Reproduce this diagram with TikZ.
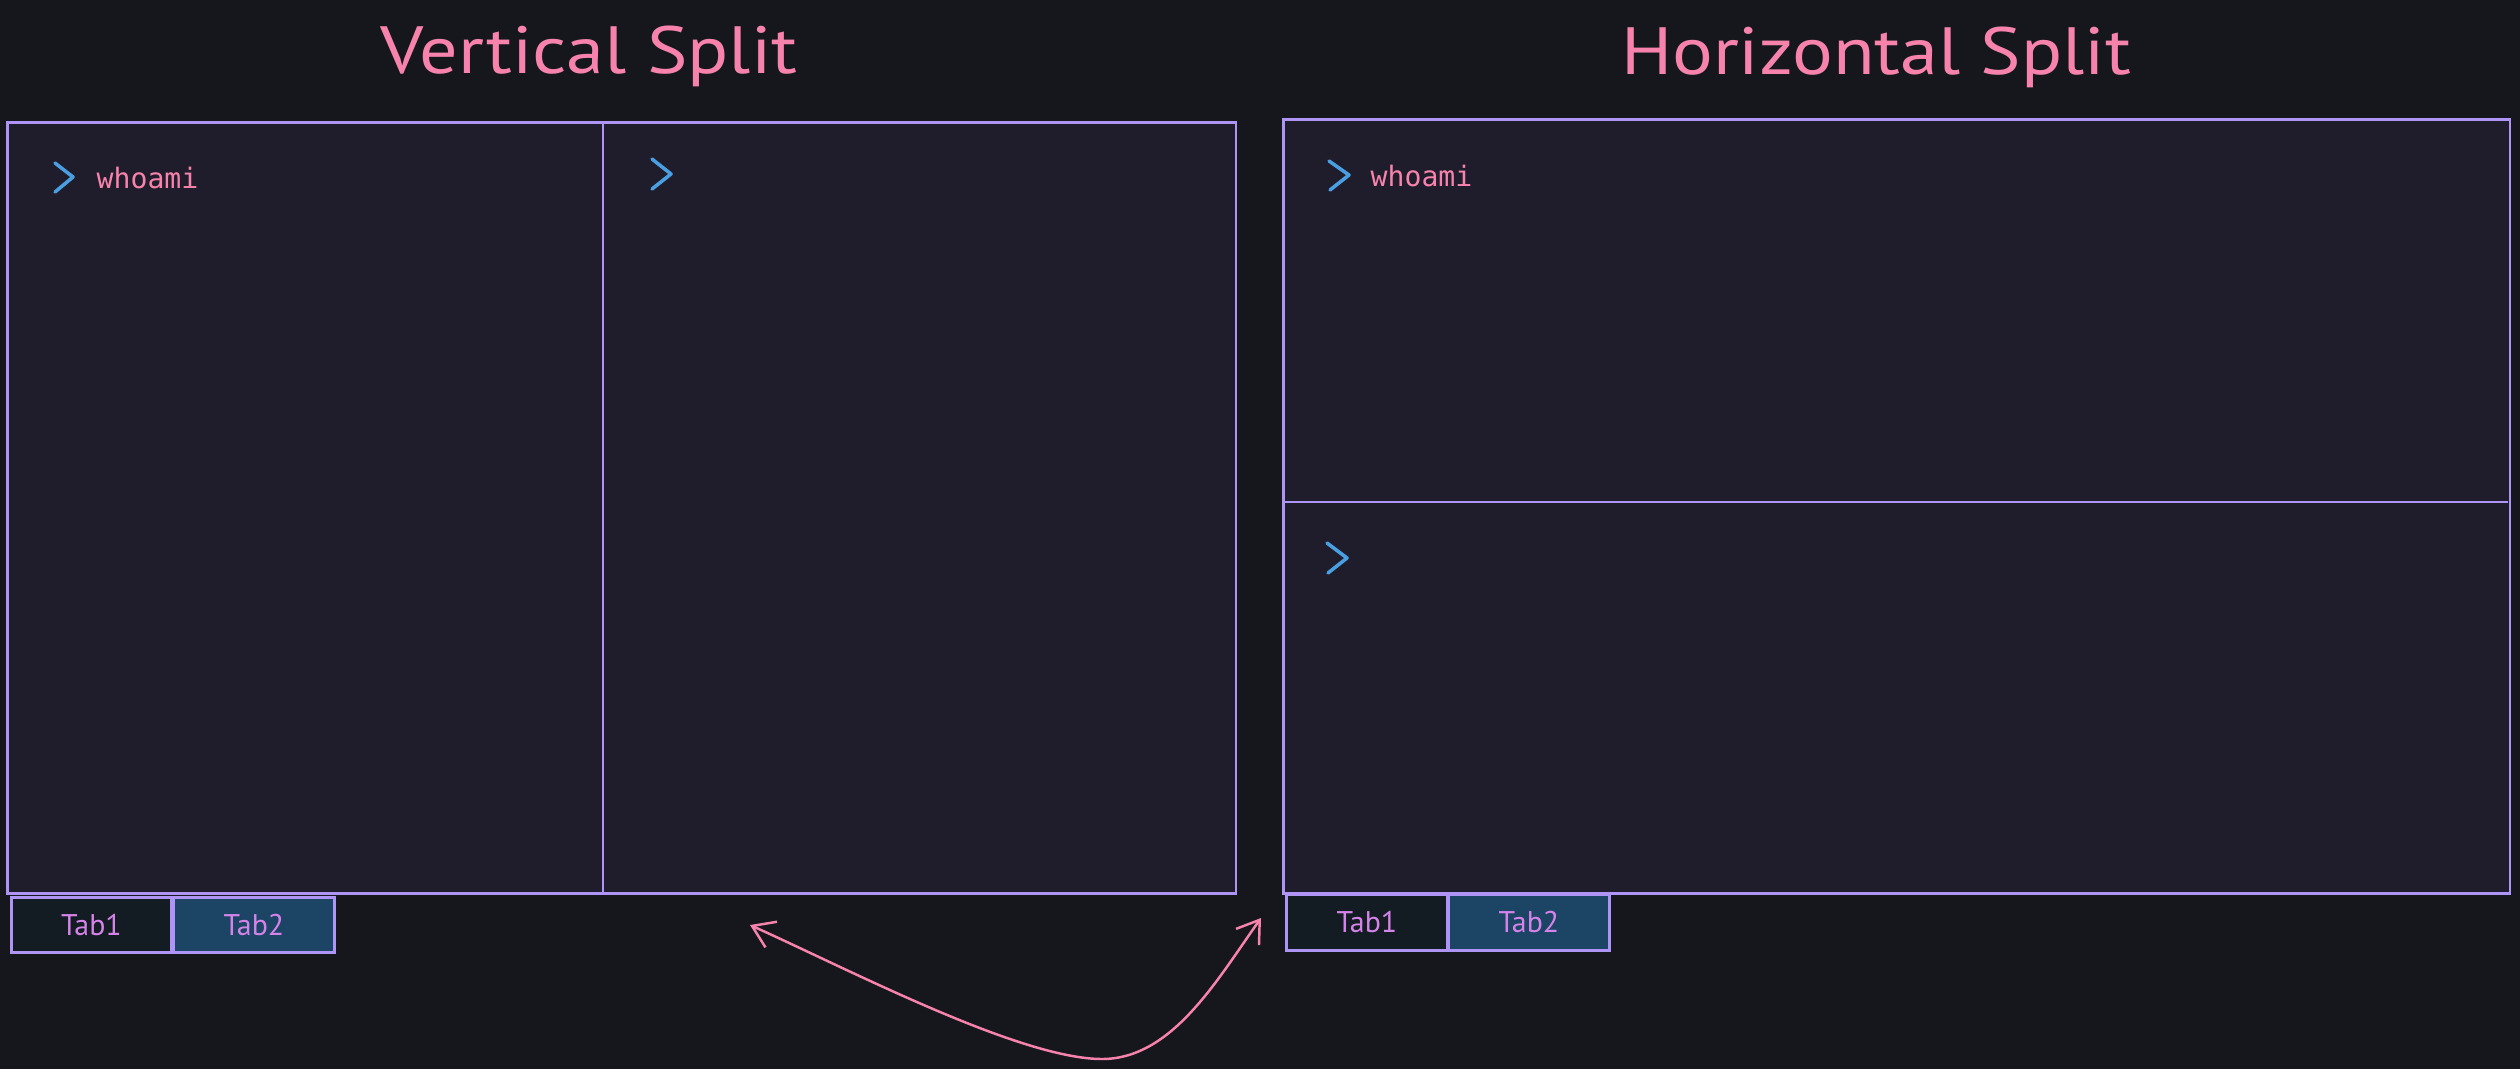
\documentclass[tikz,border=0pt]{standalone}
\usepackage{fontspec}
\usepackage{graphicx}
\setmainfont{PT Sans}
\setmonofont{DejaVu Sans Mono}
\usetikzlibrary{arrows.meta}
\definecolor{bg}{HTML}{15171C}
\definecolor{panelfill}{HTML}{1F1D2B}
\definecolor{strokec}{HTML}{AE95F5}
\definecolor{pinktxt}{HTML}{F783AC}
\definecolor{promptblue}{HTML}{4A9FE3}
\definecolor{tabdark}{HTML}{131B23}
\definecolor{tabblue}{HTML}{1B4465}
\definecolor{tabtxt}{HTML}{D583E8}
\newcommand{\widetitle}[1]{\scalebox{1.14}[1]{#1}}
\tikzset{
  panel/.style={draw=strokec, fill=panelfill, line width=0.75pt, inner sep=0pt, anchor=north west},
  divider/.style={draw=strokec, line width=0.75pt},
  tabbox/.style={draw=strokec, line width=0.75pt, inner sep=0pt, anchor=north west,
    minimum height=0.56cm, minimum width=1.61cm, text=tabtxt, font=\fontsize{8.5}{10}\selectfont},
  titletext/.style={text=pinktxt, anchor=base, inner sep=0pt, font=\fontsize{19}{22}\selectfont},
  cmdtext/.style={text=pinktxt, anchor=base west, inner sep=0pt, font=\ttfamily\fontsize{8}{10}\selectfont},
  promptmark/.style={draw=promptblue, line width=1pt, line cap=round, line join=round},
  link/.style={draw=pinktxt, line width=0.7pt,
    arrows={Straight Barb[length=6pt,width=8pt]-Straight Barb[length=6pt,width=8pt]}}
}
\begin{document}
\begin{tikzpicture}[x=0.01cm, y=-0.01cm]
\fill[bg] (0,0) rectangle (2520,1069);
\useasboundingbox (0,0) rectangle (2520,1069);

% Titles
\node[titletext] (vtitle) at (589,73) {\widetitle{Vertical Split}};
\node[titletext] (htitle) at (1876,74) {\widetitle{Horizontal Split}};

% Vertical split panel
\node[panel, minimum width=12.28cm, minimum height=7.71cm] (vbox) at (6,121) {};
\coordinate (vdivtop) at (603,121);
\coordinate (vdivbot) at (603,892);
\draw[divider] (vdivtop) -- (vdivbot);
\draw[promptmark] (55,163) -- (73,177) -- (55,192);
\node[cmdtext] (vcmd) at (96,188) {whoami};
\draw[promptmark] (652,159) -- (671,174) -- (652,189);
\node[tabbox, fill=tabdark, minimum width=1.60cm, minimum height=0.55cm] (vtab1) at (10,896) {Tab1};
\node[tabbox, fill=tabblue, minimum width=1.61cm, minimum height=0.55cm] (vtab2) at (172,896) {Tab2};

% Horizontal split panel
\node[panel, minimum width=12.26cm, minimum height=7.74cm] (hbox) at (1282,118) {};
\coordinate (hdivleft) at (1282,502);
\coordinate (hdivright) at (2508,502);
\draw[divider] (hdivleft) -- (hdivright);
\draw[promptmark] (1329,161) -- (1349,175) -- (1330,190);
\node[cmdtext] (hcmd) at (1370,186) {whoami};
\draw[promptmark] (1327,543) -- (1347,558) -- (1328,573);
\node[tabbox, fill=tabdark] (htab1) at (1285,893) {Tab1};
\node[tabbox, fill=tabblue] (htab2) at (1447,893) {Tab2};

% Curved double arrow
\coordinate (arrA) at (750,925);
\coordinate (arrM) at (1102,1059);
\coordinate (arrB) at (1261,918);
\draw[link] (arrA) .. controls (850,970) and (1020,1059) .. (arrM)
  .. controls (1172,1059) and (1217,980) .. (arrB);
\end{tikzpicture}
\end{document}
